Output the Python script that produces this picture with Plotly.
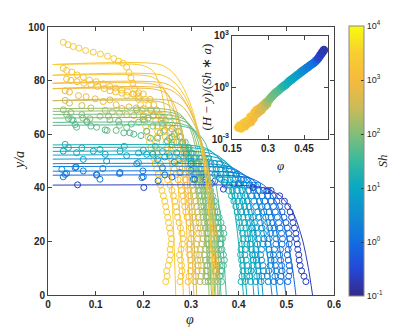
import plotly.graph_objects as go
from plotly.colors import sample_colorscale

# parula-like colour map, used against log10(Sh) in [-1, 4]
PARULA = [[0.0, 'rgb(53,42,135)'], [0.1, 'rgb(35,72,215)'], [0.2, 'rgb(18,110,225)'],
          [0.3, 'rgb(16,140,210)'], [0.4, 'rgb(8,168,196)'], [0.5, 'rgb(56,185,158)'],
          [0.6, 'rgb(130,190,120)'], [0.7, 'rgb(205,187,88)'], [0.8, 'rgb(246,186,62)'],
          [0.9, 'rgb(248,206,48)'], [1.0, 'rgb(249,251,14)']]

# one entry per experiment
H_LIST = [86, 82, 79, 77, 72.5, 69.5, 68.5, 67.3, 66, 64.4, 63.3,
          56, 55, 53.6, 52.2, 50.7, 49, 47.9, 46.2, 44.7, 41]
LOG_SH = [3.4, 3.3, 3.1, 2.9, 2.5, 2.15, 2.05, 1.95, 1.85, 1.75, 1.65,
          1.2, 1.1, 1.0, 0.9, 0.6, 0.4, 0.25, 0.1, -0.1, -0.65]

# measured profiles: phi read at the heights of Y_GRID (bottom up)
Y_GRID = [5, 7, 9, 11, 13, 15, 17, 19, 21, 23, 25, 27, 29, 31, 33, 35, 37, 39, 41, 43,
          45, 47, 49, 51, 53, 55, 57, 59, 61, 63, 65, 67, 69, 71, 73, 75, 77, 79, 81, 83, 85]
COL_PHI = [
    [.247, .250, .249, .252, .255, .257, .256, .258, .259, .257, .255, .253, .251, .249, .247, .245, .242, .239, .236, .233,
     .231, .228, .225, .222, .219, .216, .213, .210, .207, .205, .203, .200, .197, .194, .190, .186, .182, .178, .174, .170, .165],
    [.277, .279, .281, .280, .278, .276, .279, .282, .283, .281, .278, .275, .272, .270, .268, .266, .263, .260, .256, .251,
     .246, .241, .236, .232, .229, .228, .228, .229, .230, .229, .226, .222, .217, .211, .204],
    [.294, .296, .299, .301, .300, .297, .295, .297, .300, .302, .300, .296, .292, .289, .287, .285, .283, .280, .277, .273,
     .269, .265, .261, .257, .254, .251, .248, .246, .243, .240, .237, .233, .228, .222, .214, .200],
    [.308, .310, .313, .315, .314, .311, .309, .311, .314, .316, .314, .310, .306, .303, .301, .299, .297, .294, .291, .288,
     .285, .281, .277, .273, .270, .267, .264, .261, .257, .252, .246, .238, .228],
    [.319, .321, .323, .322, .320, .318, .320, .323, .325, .323, .320, .317, .315, .314, .312, .310, .308, .306, .304, .302,
     .299, .296, .293, .290, .287, .284, .281, .278, .275, .272, .268],
    [.329, .331, .334, .333, .330, .328, .330, .333, .335, .333, .330, .327, .325, .323, .321, .319, .317, .315, .312, .309,
     .306, .302, .298, .294, .290, .286, .282, .278, .273],
    [.336, .334, .332, .335, .339, .341, .339, .336, .334, .336, .338, .336, .332, .329, .327, .325, .322, .319, .316, .313,
     .309, .305, .301, .297, .292, .287, .282, .276],
    [.343, .346, .348, .346, .343, .341, .344, .347, .349, .347, .344, .341, .338, .336, .334, .331, .328, .325, .322, .318,
     .314, .310, .305, .300, .295, .289, .283],
    [.350, .348, .351, .354, .357, .355, .352, .350, .353, .356, .355, .351, .347, .345, .342, .339, .336, .333, .329, .325,
     .321, .316, .311, .306, .300, .294, .288],
    [.357, .360, .362, .361, .358, .356, .358, .361, .363, .362, .359, .356, .353, .350, .347, .344, .341, .337, .333, .329,
     .324, .319, .313, .307, .300, .293],
    [.364, .362, .365, .368, .370, .368, .365, .363, .366, .369, .367, .363, .359, .356, .352, .349, .345, .341, .337, .332,
     .327, .322, .316, .310, .303, .296],
    [.405, .407, .409, .408, .406, .404, .405, .407, .409, .408, .405, .402, .400, .397, .394, .390, .385, .379, .372, .364,
     .355, .345, .333, .320],
    [.414, .417, .419, .418, .416, .413, .414, .417, .419, .418, .415, .412, .409, .406, .402, .398, .393, .387, .380, .372,
     .363, .353, .342, .330],
    [.425, .423, .426, .429, .431, .429, .426, .424, .427, .430, .428, .424, .420, .416, .412, .408, .403, .397, .390, .382,
     .373, .362, .350, .337],
    [.436, .438, .440, .439, .437, .434, .436, .439, .441, .439, .436, .433, .430, .426, .422, .418, .413, .407, .400, .392,
     .383, .372, .360],
    [.447, .449, .452, .451, .448, .446, .448, .451, .453, .452, .449, .446, .443, .440, .436, .432, .427, .421, .414, .405,
     .394, .380],
    [.462, .460, .463, .466, .468, .466, .463, .461, .464, .467, .465, .461, .457, .453, .449, .444, .438, .431, .422, .410, .396],
    [.474, .476, .478, .477, .475, .473, .475, .478, .479, .477, .474, .471, .468, .464, .460, .455, .449, .441, .431, .418],
    [.487, .489, .491, .490, .488, .486, .488, .491, .492, .490, .487, .484, .481, .477, .473, .468, .461, .452, .440],
    [.503, .505, .507, .506, .504, .502, .504, .506, .507, .505, .502, .499, .495, .491, .486, .480, .472, .462],
    [.541, .537, .532, .529, .527, .526, .524, .523, .521, .520, .517, .514, .511, .508, .503, .496, .486, .468],
]

# measured points in the dilute upper layer
TOP_PHI = [
    [.032, .042, .053, .065, .079, .095, .110, .125, .138, .148, .157],
    [.032, .039, .050, .061, .074, .087, .101, .116, .130, .142, .155, .167, .178, .190],
    [.039, .048, .061, .075, .090, .104, .118, .130, .142, .155, .165, .180, .190],
    [.036, .045, .064, .080, .099, .116, .130, .143, .155, .170, .185, .200, .215],
    [.036, .045, .071, .090, .120, .135, .150, .165, .180, .200, .220, .240, .255],
    [.032, .048, .073, .109, .130, .186, .210, .240, .260],
    [.039, .088, .127, .150, .190, .220, .245, .265],
    [.043, .071, .082, .124, .165, .200, .235, .260],
    [.053, .081, .102, .143, .175, .207, .230, .255],
    [.060, .090, .148, .159, .180, .215, .250, .270],
    [.050, .057, .120, .172, .195, .225, .260, .280],
    [.036, .071, .109, .160, .200, .240, .270, .290],
    [.043, .060, .095, .151, .190, .220, .255, .285],
    [.032, .120, .165, .207, .245, .275, .300],
    [.074, .123, .190, .230, .265, .300],
    [.029, .059, .115, .186, .240, .300, .326, .350],
    [.036, .074, .102, .151, .199, .277, .330, .360],
    [.032, .039, .109, .200, .245, .308, .370],
    [.057, .197, .231, .305, .350, .390],
    [.102, .150, .260, .330, .400, .430],
    [.062, .201, .343, .368, .430, .459],
]
TOP_Y = [
    [94.3, 93.4, 92.7, 92.1, 91.2, 90.6, 89.9, 89.1, 88.2, 87.3, 86.5],
    [84.6, 83.8, 83.2, 82.1, 81.3, 80.2, 79.6, 78.8, 77.8, 77.2, 76.5, 75.8, 74.9, 74.0],
    [80.6, 80.1, 79.6, 79.0, 78.5, 77.8, 77.0, 76.2, 75.8, 75.3, 74.5, 75.0, 75.5],
    [76.2, 75.7, 74.4, 74.0, 73.2, 72.2, 72.8, 71.0, 69.6, 70.2, 69.8, 69.5, 69.0],
    [72.6, 71.6, 70.7, 69.8, 68.9, 68.3, 67.8, 67.3, 67.0, 66.5, 66.8, 66.0, 66.5],
    [69.1, 68.1, 66.0, 66.7, 65.3, 69.1, 66.0, 64.0, 62.0],
    [67.3, 65.8, 66.7, 63.3, 64.5, 63.0, 61.5, 60.0],
    [65.8, 67.3, 64.6, 61.4, 62.5, 65.5, 60.5, 59.0],
    [65.1, 64.8, 62.6, 61.4, 63.8, 61.1, 58.5, 58.5],
    [62.6, 63.0, 64.8, 60.5, 60.0, 58.5, 57.5, 57.0],
    [65.4, 63.6, 61.6, 60.5, 59.5, 55.5, 56.0, 56.5],
    [56.2, 54.9, 54.3, 55.5, 54.0, 53.5, 53.0, 52.5],
    [55.0, 53.1, 53.7, 53.7, 53.0, 52.5, 52.0, 51.0],
    [53.7, 52.5, 52.0, 52.5, 51.5, 50.5, 50.0],
    [50.6, 50.0, 49.4, 50.5, 49.5, 49.0],
    [46.9, 47.8, 47.2, 49.0, 47.5, 46.5, 44.1, 45.0],
    [45.0, 46.3, 44.7, 45.7, 46.3, 45.7, 44.0, 43.5],
    [44.1, 45.4, 43.2, 44.1, 44.8, 43.2, 42.0],
    [47.5, 43.8, 42.6, 43.2, 42.5, 41.5],
    [45.0, 45.3, 44.0, 43.0, 41.5, 40.1],
    [41.1, 40.1, 41.6, 39.5, 40.1, 38.9],
]

# model profiles (steep branch, one per experiment)
CURVE_PHI = [
    [.01, .188, .207, .221, .236, .248, .258, .264, .268],
    [.01, .199, .220, .234, .250, .263, .273, .279, .284],
    [.01, .208, .230, .244, .261, .275, .286, .292, .297],
    [.01, .214, .237, .252, .269, .283, .294, .301, .306],
    [.01, .218, .241, .257, .275, .289, .300, .307, .312],
    [.01, .237, .262, .278, .297, .313, .325, .333, .338],
    [.01, .240, .265, .282, .302, .318, .330, .338, .343],
    [.01, .245, .271, .288, .308, .324, .337, .344, .350],
    [.01, .250, .276, .294, .314, .331, .343, .351, .357],
    [.01, .254, .281, .299, .319, .336, .349, .357, .363],
    [.01, .262, .289, .308, .329, .346, .360, .368, .374],
    [.01, .287, .317, .337, .361, .380, .394, .403, .410],
    [.01, .292, .323, .343, .367, .386, .401, .410, .417],
    [.01, .302, .334, .356, .380, .400, .416, .425, .432],
    [.01, .309, .342, .364, .389, .409, .425, .435, .442],
    [.01, .316, .349, .371, .397, .418, .434, .444, .451],
    [.01, .329, .364, .387, .414, .435, .452, .462, .470],
    [.01, .337, .372, .396, .423, .445, .463, .473, .481],
    [.01, .349, .386, .411, .439, .462, .480, .491, .499],
    [.01, .364, .402, .428, .458, .482, .500, .512, .520],
    [.01, .389, .430, .457, .488, .514, .534, .546, .555],
]
CURVE_Y = [
    [86, 86, 85.1, 83.4, 77.4, 64.5, 43, 21.5, 0],
    [82, 82, 81.2, 79.5, 73.8, 61.5, 41, 20.5, 0],
    [79, 79, 78.2, 76.6, 71.1, 59.3, 39.5, 19.8, 0],
    [77, 77, 76.2, 74.7, 69.3, 57.8, 38.5, 19.3, 0],
    [72.5, 72.5, 71.8, 70.3, 65.3, 54.4, 36.3, 18.1, 0],
    [69.5, 69.5, 68.8, 67.4, 62.6, 52.1, 34.8, 17.4, 0],
    [68.5, 68.5, 67.8, 66.4, 61.7, 51.4, 34.3, 17.1, 0],
    [67.3, 67.3, 66.6, 65.3, 60.6, 50.5, 33.7, 16.8, 0],
    [66, 66, 65.3, 64, 59.4, 49.5, 33, 16.5, 0],
    [64.4, 64.4, 63.8, 62.5, 58, 48.3, 32.2, 16.1, 0],
    [63.3, 63.3, 62.7, 61.4, 57, 47.5, 31.7, 15.8, 0],
    [56, 56, 55.4, 54.3, 50.4, 42, 28, 14, 0],
    [55, 55, 54.5, 53.4, 49.5, 41.3, 27.5, 13.8, 0],
    [53.6, 53.6, 53.1, 52, 48.2, 40.2, 26.8, 13.4, 0],
    [52.2, 52.2, 51.7, 50.6, 47, 39.2, 26.1, 13.1, 0],
    [50.7, 50.7, 50.2, 49.2, 45.6, 38, 25.4, 12.7, 0],
    [49, 49, 48.5, 47.5, 44.1, 36.8, 24.5, 12.3, 0],
    [47.9, 47.9, 47.4, 46.5, 43.1, 35.9, 24, 12, 0],
    [46.2, 46.2, 45.7, 44.8, 41.6, 34.7, 23.1, 11.6, 0],
    [44.7, 44.7, 44.3, 43.4, 40.2, 33.5, 22.4, 11.2, 0],
    [41, 41, 40.6, 39.8, 36.9, 30.8, 20.5, 10.3, 0],
]

# model profiles (gradual branch, upper experiments only)
CURVE2_PHI = [
    [.01, .235, .262, .285, .305, .322, .334, .341, .345],
    [.01, .240, .267, .289, .308, .325, .337, .344, .348],
    [.01, .245, .272, .293, .312, .329, .341, .348, .352],
    [.01, .250, .277, .297, .316, .333, .345, .352, .356],
    [.01, .258, .284, .303, .321, .337, .349, .356, .360],
]
CURVE2_Y = [
    [86, 86, 83, 77, 68, 55, 38, 19, 0],
    [82, 82, 79, 73.5, 65, 52.5, 36, 18, 0],
    [79, 79, 76, 70.5, 62.5, 50.5, 34.5, 17.5, 0],
    [77, 77, 74, 69, 61, 49, 33.5, 17, 0],
    [72.5, 72.5, 70, 65, 57.5, 46.5, 31.5, 16, 0],
]

# inset: collapsed data (H - y)/(Sh a) against phi
INSET_PHI = [.176, .182, .188, .193, .200, .205, .210, .215, .221, .226, .230, .235, .240, .243, .248, .252,
             .256, .260, .265, .270, .274, .278, .283, .287, .292, .297, .302, .307, .312, .318, .323, .328,
             .334, .340, .346, .352, .358, .364, .370, .376, .382, .388, .394, .400, .406, .412, .418, .424,
             .430, .436, .442, .448, .454, .460, .466, .472, .478, .484, .490, .496, .502, .508, .513, .518,
             .522, .526, .530, .533]
INSET_VAL = [4.7e-3, 6.3e-3, 4.2e-3, 7.1e-3, 8.9e-3, 5.6e-3, 1.1e-2, 7.9e-3, 1.26e-2, 2.0e-2, 1.0e-2, 2.2e-2,
             1.6e-2, 3.5e-2, 2.5e-2, 5.0e-2, 3.2e-2, 5.6e-2, 4.0e-2, 7.1e-2, 5.0e-2, 8.9e-2, 0.105, 0.079,
             0.141, 0.112, 0.178, 0.209, 0.263, 0.316, 0.380, 0.447, 0.525, 0.603, 0.724, 0.871, 1.0, 1.17,
             1.38, 1.58, 1.91, 2.24, 2.63, 3.02, 3.55, 4.07, 4.79, 5.50, 6.31, 7.59, 8.71, 10.0, 11.7, 13.5,
             15.1, 17.8, 20.4, 23.4, 26.9, 31.6, 38.0, 47.9, 60.3, 75.9, 93.3, 110, 132, 151]
INSET_LOGSH = [3.4, 3.4, 3.3, 3.4, 3.3, 3.2, 3.3, 3.1, 3.3, 3.4, 3.1, 3.2, 3.0, 3.3, 3.1, 3.2,
               2.9, 3.0, 2.8, 2.9, 2.7, 2.8, 2.6, 2.5, 2.4, 2.3, 2.2, 2.1, 2.0, 1.95, 1.9, 1.85,
               1.8, 1.75, 1.7, 1.65, 1.6, 1.4, 1.3, 1.25, 1.2, 1.15, 1.1, 1.05, 1.0, 0.95, 0.9, 0.85,
               0.8, 0.7, 0.6, 0.5, 0.45, 0.4, 0.3, 0.25, 0.2, 0.15, 0.1, 0.0, -0.1, -0.4, -0.55, -0.6,
               -0.65, -0.7, -0.7, -0.75]

SH_TICKS = [-1, 0, 1, 2, 3, 4]
SH_LABELS = ['10<sup>-1</sup>', '10<sup>0</sup>', '10<sup>1</sup>', '10<sup>2</sup>', '10<sup>3</sup>', '10<sup>4</sup>']

W, HGT = 415, 332
OFF = 8  # page offset of the figure inside the browser window
ML, MT = 48 - OFF, 25 - OFF
PW, PH = 286, 270
MR, MB = W - ML - PW, HGT - MT - PH
TXT = '#262626'
TICKFONT = dict(family='Liberation Sans, Arial', size=10, color=TXT, weight='bold')


def sh_color(v):
    return sample_colorscale(PARULA, [(v + 1) / 5])[0]


def px_x(p):
    # window pixel -> paper fraction
    return (p - OFF - ML) / PW


def px_y(p):
    return (MT + PH - (p - OFF)) / PH


fig = go.Figure()

# measured points
for i in range(len(H_LIST)):
    c = sh_color(LOG_SH[i])
    xs = TOP_PHI[i] + COL_PHI[i][::-1]
    ys = TOP_Y[i] + Y_GRID[:len(COL_PHI[i])][::-1]
    fig.add_trace(go.Scatter(x=xs, y=ys, mode='markers', showlegend=False, hoverinfo='skip',
                             marker=dict(symbol='circle-open', size=6, color=c, line=dict(width=1))))

# model curves
for i in range(len(H_LIST)):
    fig.add_trace(go.Scatter(x=CURVE_PHI[i], y=CURVE_Y[i], mode='lines', showlegend=False,
                             hoverinfo='skip', line=dict(color=sh_color(LOG_SH[i]), width=1,
                                                         shape='spline', smoothing=0.8)))
for i in range(len(CURVE2_PHI)):
    fig.add_trace(go.Scatter(x=CURVE2_PHI[i], y=CURVE2_Y[i], mode='lines', showlegend=False,
                             hoverinfo='skip', line=dict(color=sh_color(LOG_SH[i]), width=1,
                                                         shape='spline', smoothing=0.8)))

# inset
fig.add_trace(go.Scatter(x=INSET_PHI, y=INSET_VAL, mode='markers', xaxis='x2', yaxis='y2',
                         showlegend=False, hoverinfo='skip',
                         marker=dict(size=8.5, color=INSET_LOGSH, colorscale=PARULA, cmin=-1, cmax=4,
                                     line=dict(width=0))))

# colour bar carrier
fig.add_trace(go.Scatter(x=[None], y=[None], mode='markers', showlegend=False, hoverinfo='skip',
                         marker=dict(color=[0], colorscale=PARULA, cmin=-1, cmax=4, showscale=True,
                                     colorbar=dict(x=px_x(349), xanchor='left', y=px_y(160),
                                                   yanchor='middle', len=270, lenmode='pixels',
                                                   thickness=15, outlinewidth=1, outlinecolor='#888',
                                                   xpad=0, ypad=0,
                                                   tickvals=SH_TICKS, ticktext=SH_LABELS,
                                                   ticks='inside', ticklen=3, tickcolor='#333',
                                                   tickfont=dict(family='Liberation Sans, Arial', size=9, color=TXT),
                                                   title=dict(text='<i>Sh</i>', side='right',
                                                              font=dict(family='Liberation Serif', size=13, color=TXT))))))

axis_common = dict(showgrid=False, zeroline=False, showline=True, linecolor='#444', linewidth=1,
                   mirror='ticks', ticks='inside', ticklen=4, tickcolor='#444', tickfont=TICKFONT)

label = dict(xref='paper', yref='paper', showarrow=False, xanchor='center', yanchor='middle')

fig.update_layout(
    width=W, height=HGT, margin=dict(l=ML, r=MR, t=MT, b=MB, pad=0),
    paper_bgcolor='white', plot_bgcolor='white',
    xaxis=dict(domain=[0, 1], range=[0, 0.6], tickvals=[0, 0.1, 0.2, 0.3, 0.4, 0.5, 0.6],
               ticktext=['0', '0.1', '0.2', '0.3', '0.4', '0.5', '0.6'], anchor='y', **axis_common),
    yaxis=dict(domain=[0, 1], range=[0, 100], tickvals=[0, 20, 40, 60, 80, 100],
               anchor='x', **axis_common),
    xaxis2=dict(domain=[px_x(232), px_x(328)], range=[0.15, 0.55], tickvals=[0.15, 0.3, 0.45],
                ticktext=['0.15', '0.3', '0.45'], anchor='y2', **axis_common),
    yaxis2=dict(domain=[px_y(138), px_y(34)], type='log', range=[-3, 3],
                tickvals=[1e-3, 1, 1e3], ticktext=['10<sup>-3</sup>', '10<sup>0</sup>', '10<sup>3</sup>'],
                anchor='x2', **axis_common),
    annotations=[
        dict(text='<i>φ</i>', x=px_x(190), y=px_y(320),
             font=dict(family='Liberation Serif', size=14, color=TXT), **label),
        dict(text='<i>y/a</i>', x=px_x(19), y=px_y(160), textangle=-90,
             font=dict(family='Liberation Serif', size=14, color=TXT), **label),
        dict(text='<i>φ</i>', x=px_x(280), y=px_y(165),
             font=dict(family='Liberation Serif', size=13, color=TXT), **label),
        dict(text='(<i>H</i> − <i>y</i>)/(<i>Sh</i> ∗ <i>a</i>)', x=px_x(207), y=px_y(86), textangle=-90,
             font=dict(family='Liberation Serif', size=13, color=TXT), **label),
    ],
)

fig.write_html('out.html')
